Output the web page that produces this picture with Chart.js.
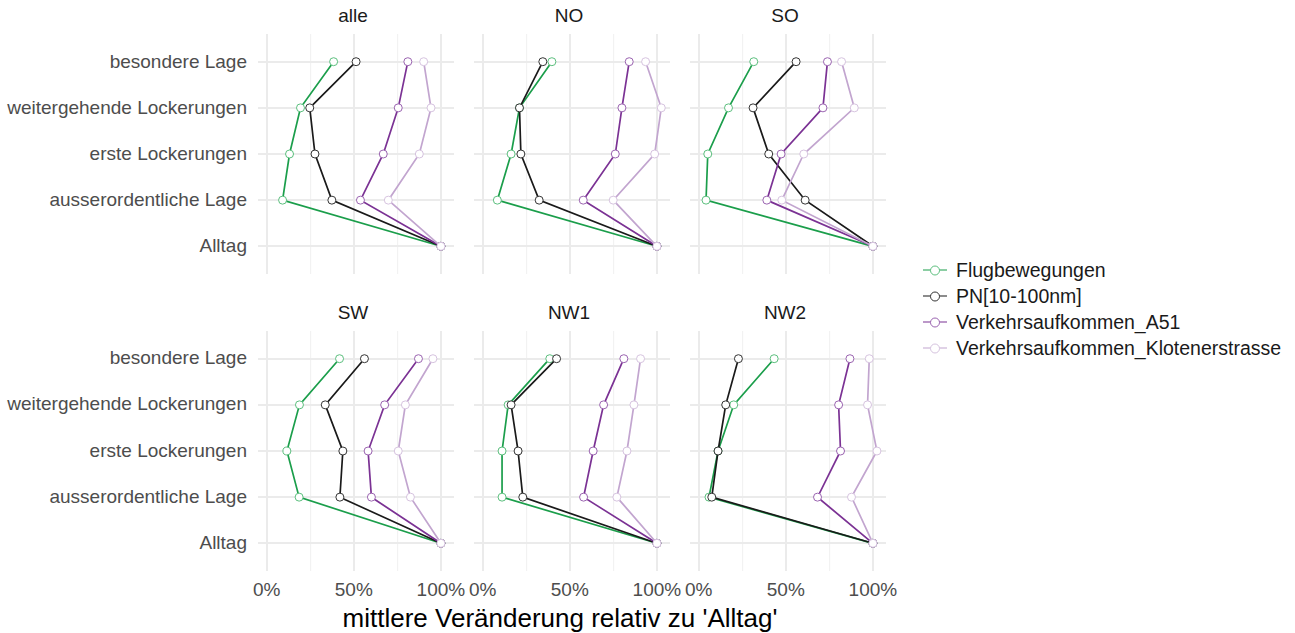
<!DOCTYPE html>
<html>
<head>
<meta charset="utf-8">
<script src="https://cdn.jsdelivr.net/npm/chart.js@4"></script>
<style>
  body { margin: 0; background: #fff; font-family: "Liberation Sans", Arial, sans-serif; }
  #wrap { position: relative; width: 1295px; height: 633px; overflow: hidden; }
  canvas.panel { position: absolute; }
  .lbl { position: absolute; white-space: nowrap; }
  .strip { font-size: 19px; color: #1a1a1a; transform: translate(-50%, -50%); }
  .ytick { font-size: 19px; color: #4d4d4d; transform: translate(-100%, -50%); }
  .xtick { font-size: 19px; color: #4d4d4d; transform: translate(-50%, -50%); }
  .xtitle { font-size: 26px; color: #000; transform: translate(-50%, -50%); }
  .leg { position: absolute; left: 922px; font-size: 19.5px; color: #1a1a1a; display: flex; align-items: center; transform: translateY(-50%); }
  .leg .key { position: relative; width: 26px; height: 14px; margin-right: 8px; }
  .leg .key .ln { position: absolute; left: 1px; right: 1px; top: 6px; height: 1.6px; }
  .leg .key .pt { position: absolute; left: 8px; top: 2px; width: 8px; height: 8px; border-radius: 50%; background: #fff; border: 1px solid; }
</style>
</head>
<body>
<div id="wrap"></div>
<script>
// categories (bottom to top)
const categories = ["Alltag", "ausserordentliche Lage", "erste Lockerungen", "weitergehende Lockerungen", "besondere Lage"];
const facets = ["alle", "NO", "SO", "SW", "NW1", "NW2"];
const seriesNames = ["Flugbewegungen", "PN[10-100nm]", "Verkehrsaufkommen_A51", "Verkehrsaufkommen_Klotenerstrasse"];
const xTickLabels = ["0%", "50%", "100%"];

// values in %, order follows categories
const flugbewegungen = {
  alle: [100, 9.1, 13.1, 19.4, 38.4],
  NO:   [100, 8.4, 16.3, 21.1, 39.7],
  SO:   [100, 4.2, 5.2, 17.1, 31.6],
  SW:   [100, 18.6, 11.6, 18.8, 41.8],
  NW1:  [100, 11.1, 11.1, 14.6, 38.5],
  NW2:  [100, 5.9, 11.1, 20.1, 43.3]
};
const pn = {
  alle: [100, 37.4, 27.7, 24.7, 51.3],
  NO:   [100, 32.4, 21.9, 21.1, 34.5],
  SO:   [100, 61.1, 40.2, 31.2, 55.9],
  SW:   [100, 42.0, 43.7, 33.6, 56.1],
  NW1:  [100, 23.0, 20.3, 16.3, 42.4],
  NW2:  [100, 7.5, 11.1, 15.5, 22.8]
};
const a51 = {
  alle: [100, 53.8, 66.9, 75.5, 81.0],
  NO:   [100, 57.7, 76.1, 79.9, 84.1],
  SO:   [100, 39.1, 47.3, 71.3, 73.9],
  SW:   [100, 60.1, 58.2, 67.7, 87.1],
  NW1:  [100, 57.9, 63.4, 69.4, 81.0],
  NW2:  [100, 68.2, 81.4, 80.3, 86.8]
};
const kloten = {
  alle: [100, 69.8, 87.6, 94.3, 90.1],
  NO:   [100, 74.9, 98.7, 102.5, 93.5],
  SO:   [100, 47.7, 60.3, 89.3, 82.0],
  SW:   [100, 82.5, 75.5, 79.6, 95.4],
  NW1:  [100, 77.0, 82.8, 86.8, 90.6],
  NW2:  [100, 87.7, 102.3, 96.9, 97.9]
};

const seriesData = [flugbewegungen, pn, a51, kloten];
const lineColors = ["#1b9e4b", "#1a1a1a", "#7b3294", "#c2a5cf"];
const pointColors = ["#5cbf7e", "#333333", "#9a63b0", "#d6c3df"];

const wrap = document.getElementById("wrap");
const colLeft = [258, 474, 690];
const rowTop = [34, 330.5];
const panelW = 196;
const panelH = 240;

function addLabel(cls, text, x, y) {
  const d = document.createElement("div");
  d.className = "lbl " + cls;
  d.textContent = text;
  d.style.left = x + "px";
  d.style.top = y + "px";
  wrap.appendChild(d);
  return d;
}

const xMin = -5, xMax = 107.5, yMin = 0.4, yMax = 5.6;

facets.forEach(function (facet, i) {
  const col = i % 3;
  const row = Math.floor(i / 3);
  const left = colLeft[col];
  const top = rowTop[row];

  const canvas = document.createElement("canvas");
  canvas.className = "panel";
  canvas.width = panelW;
  canvas.height = panelH;
  canvas.style.left = left + "px";
  canvas.style.top = top + "px";
  wrap.appendChild(canvas);

  const datasets = seriesNames.map(function (name, s) {
    return {
      label: name,
      data: seriesData[s][facet].map(function (v, k) { return { x: v, y: k + 1 }; }),
      borderColor: lineColors[s],
      borderWidth: 1.7,
      pointRadius: 4,
      pointBorderWidth: 1,
      pointBackgroundColor: "#fff",
      pointBorderColor: pointColors[s],
      showLine: true,
      tension: 0,
      order: 3 - s
    };
  });

  new Chart(canvas.getContext("2d"), {
    type: "scatter",
    data: { datasets: datasets },
    options: {
      responsive: false,
      animation: false,
      layout: { padding: 0, autoPadding: false },
      plugins: { legend: { display: false }, tooltip: { enabled: false } },
      scales: {
        x: {
          type: "linear",
          min: xMin,
          max: xMax,
          afterBuildTicks: function (axis) {
            axis.ticks = [0, 25, 50, 75, 100].map(function (v) { return { value: v }; });
          },
          ticks: { display: false },
          border: { display: false },
          grid: {
            drawTicks: false,
            color: function (ctx) { return ctx.tick && ctx.tick.value % 50 === 0 ? "#ebebeb" : "#f2f2f2"; },
            lineWidth: function (ctx) { return ctx.tick && ctx.tick.value % 50 === 0 ? 2 : 1.2; }
          }
        },
        y: {
          type: "linear",
          min: yMin,
          max: yMax,
          afterBuildTicks: function (axis) {
            axis.ticks = [1, 2, 3, 4, 5].map(function (v) { return { value: v }; });
          },
          ticks: { display: false },
          border: { display: false },
          grid: { drawTicks: false, color: "#ebebeb", lineWidth: 2 }
        }
      }
    }
  });

  // strip title
  addLabel("strip", facet, left + panelW / 2 - 3, top - 18);

  // y category labels on left column
  if (col === 0) {
    categories.forEach(function (c, k) {
      const y = top + (yMax - (k + 1)) / (yMax - yMin) * panelH;
      addLabel("ytick", c, 247, y);
    });
  }
  // x tick labels on bottom row
  if (row === 1) {
    [0, 50, 100].forEach(function (v, k) {
      const x = left + (v - xMin) / (xMax - xMin) * panelW;
      addLabel("xtick", xTickLabels[k], x, 590);
    });
  }
});

addLabel("xtitle", "mittlere Veränderung relativ zu 'Alltag'", 560, 618);

// legend
seriesNames.forEach(function (name, s) {
  const d = document.createElement("div");
  d.className = "leg";
  d.style.top = (270 + s * 26) + "px";
  d.innerHTML = '<span class="key"><span class="ln"></span><span class="pt"></span></span><span></span>';
  d.querySelector(".ln").style.background = lineColors[s];
  d.querySelector(".pt").style.borderColor = pointColors[s];
  d.lastChild.textContent = name;
  wrap.appendChild(d);
});
</script>
</body>
</html>
